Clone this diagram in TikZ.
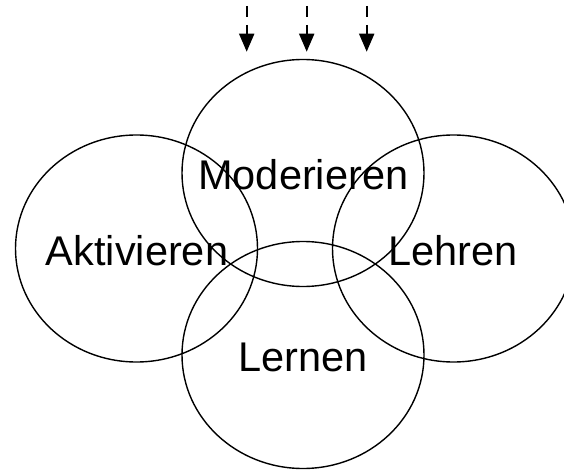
\documentclass[tikz,border=0pt]{standalone}
\usepackage{fontspec}
\setmainfont{Liberation Sans}
\usetikzlibrary{shapes.geometric,arrows.meta}
\begin{document}
\begin{tikzpicture}[x=1pt,y=1pt,
  ring/.style={draw=black,line width=1.4pt,ellipse,inner sep=0pt,
    minimum width=242pt,minimum height=227pt},
  word/.style={anchor=base,inner sep=0pt,
    font=\fontsize{41.5}{48}\selectfont},
  feed/.style={line width=2pt,dash pattern=on 11pt off 8pt,
    -{Triangle[width=15pt,length=18pt]}}]
  \clip (0,0) rectangle (564,469);
  % the four overlapping fields
  \node[ring] (mod) at (303,296) {};
  \node[ring] (akt) at (136.5,220.5) {};
  \node[ring] (leh) at (453.5,220.5) {};
  \node[ring] (ler) at (303,114) {};
  % their labels
  \node[word] (tmod) at (303.3,279.7) {Moderieren};
  \node[word] (takt) at (137,203.3) {Aktivieren};
  \node[word] (tleh) at (453.3,203.3) {Lehren};
  \node[word] (tler) at (303.3,97.3) {Lernen};
  % incoming influences from above
  \foreach \i/\x in {1/246.7,2/306.7,3/366.7}{
    \coordinate (s\i) at (\x,463);
    \coordinate (e\i) at (\x,417.3);
    \draw[feed] (s\i) -- (e\i);
  }
\end{tikzpicture}
\end{document}
